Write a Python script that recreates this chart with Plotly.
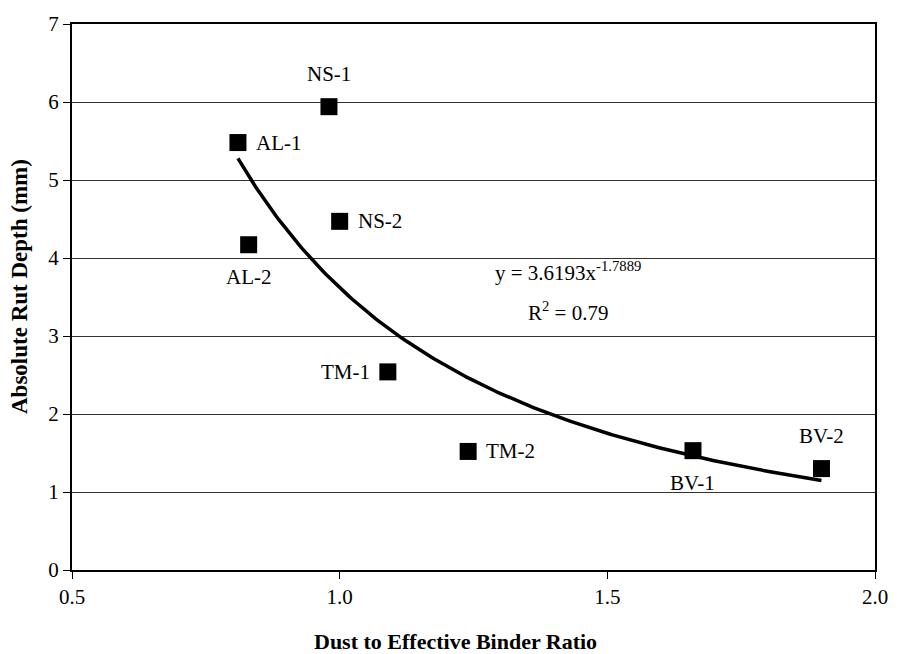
import numpy as np
import plotly.graph_objects as go

# Data
mix_names = ["NS-1", "AL-1", "NS-2", "AL-2", "TM-1", "TM-2", "BV-1", "BV-2"]
dust_binder_ratio = [0.98, 0.81, 1.00, 0.83, 1.09, 1.24, 1.66, 1.90]
rut_depth_mm = [5.94, 5.48, 4.47, 4.17, 2.54, 1.52, 1.53, 1.30]

# Power trendline reported on the chart: y = a * x^b
trend_a = 3.6193
trend_b = -1.7889
trend_r2 = 0.79

x_tick_vals = [0.5, 1.0, 1.5, 2.0]
y_tick_vals = [0, 1, 2, 3, 4, 5, 6, 7]

# label placement (direction relative to marker)
label_side = ["above", "right", "right", "below", "left", "right", "below", "above"]

FONT = "Liberation Serif"
FS = 21

trend_x = np.linspace(min(dust_binder_ratio), max(dust_binder_ratio), 200)
trend_y = trend_a * trend_x ** trend_b

fig = go.Figure()
fig.add_trace(go.Scatter(
    x=trend_x, y=trend_y, mode="lines",
    line=dict(color="black", width=3.5), hoverinfo="skip", showlegend=False))
fig.add_trace(go.Scatter(
    x=dust_binder_ratio, y=rut_depth_mm, mode="markers",
    marker=dict(symbol="square", size=17, color="black", line=dict(width=0)),
    showlegend=False))

annotations = []
for name, xv, yv, side in zip(mix_names, dust_binder_ratio, rut_depth_mm, label_side):
    a = dict(x=xv, y=yv, xref="x", yref="y", text=name, showarrow=False,
             font=dict(family=FONT, size=FS, color="black"))
    if side == "above":
        a.update(xanchor="center", yanchor="middle", yshift=33)
    elif side == "below":
        a.update(xanchor="center", yanchor="middle", yshift=-32)
    elif side == "right":
        a.update(xanchor="left", yanchor="middle", xshift=16)
    else:
        a.update(xanchor="right", yanchor="middle", xshift=-16)
    annotations.append(a)

eq_x = 1.427
annotations.append(dict(
    x=eq_x, y=3.83, xref="x", yref="y", showarrow=False, xanchor="center", yanchor="middle",
    text="y = %.4fx<sup>%.4f</sup>" % (trend_a, trend_b),
    font=dict(family=FONT, size=FS, color="black")))
annotations.append(dict(
    x=eq_x, y=3.32, xref="x", yref="y", showarrow=False, xanchor="center", yanchor="middle",
    text="R<sup>2</sup> = %.2f" % trend_r2,
    font=dict(family=FONT, size=FS, color="black")))

# axis titles
annotations.append(dict(
    x=0.5, y=0, xref="paper", yref="paper", yshift=-71, xshift=-18, showarrow=False,
    xanchor="center", yanchor="middle", text="<b>Dust to Effective Binder Ratio</b>",
    font=dict(family=FONT, size=22, color="black")))
annotations.append(dict(
    x=0, y=0.5, xref="paper", yref="paper", xshift=-53, yshift=10, showarrow=False,
    xanchor="center", yanchor="middle", textangle=-90, text="<b>Absolute Rut Depth (mm)</b>",
    font=dict(family=FONT, size=23, color="black")))

fig.update_layout(
    width=900, height=654,
    margin=dict(l=72, r=17, t=18, b=84),
    paper_bgcolor="white", plot_bgcolor="white",
    font=dict(family=FONT, size=FS, color="black"),
    annotations=annotations,
    xaxis=dict(range=[0.5, 2.0], tickvals=x_tick_vals, tickformat=".1f",
               showgrid=False, zeroline=False, showline=True, mirror=True,
               linecolor="black", linewidth=2, ticks="outside", ticklen=7,
               tickcolor="black", tickwidth=1, tickfont=dict(family=FONT, size=FS)),
    yaxis=dict(range=[0, 7], tickvals=y_tick_vals, showgrid=True,
               gridcolor="#333333", gridwidth=1, zeroline=False, showline=True,
               mirror=True, linecolor="black", linewidth=2, ticks="outside",
               ticklen=7, tickcolor="black", tickwidth=1,
               tickfont=dict(family=FONT, size=FS)),
)

fig.write_html("out.html")
